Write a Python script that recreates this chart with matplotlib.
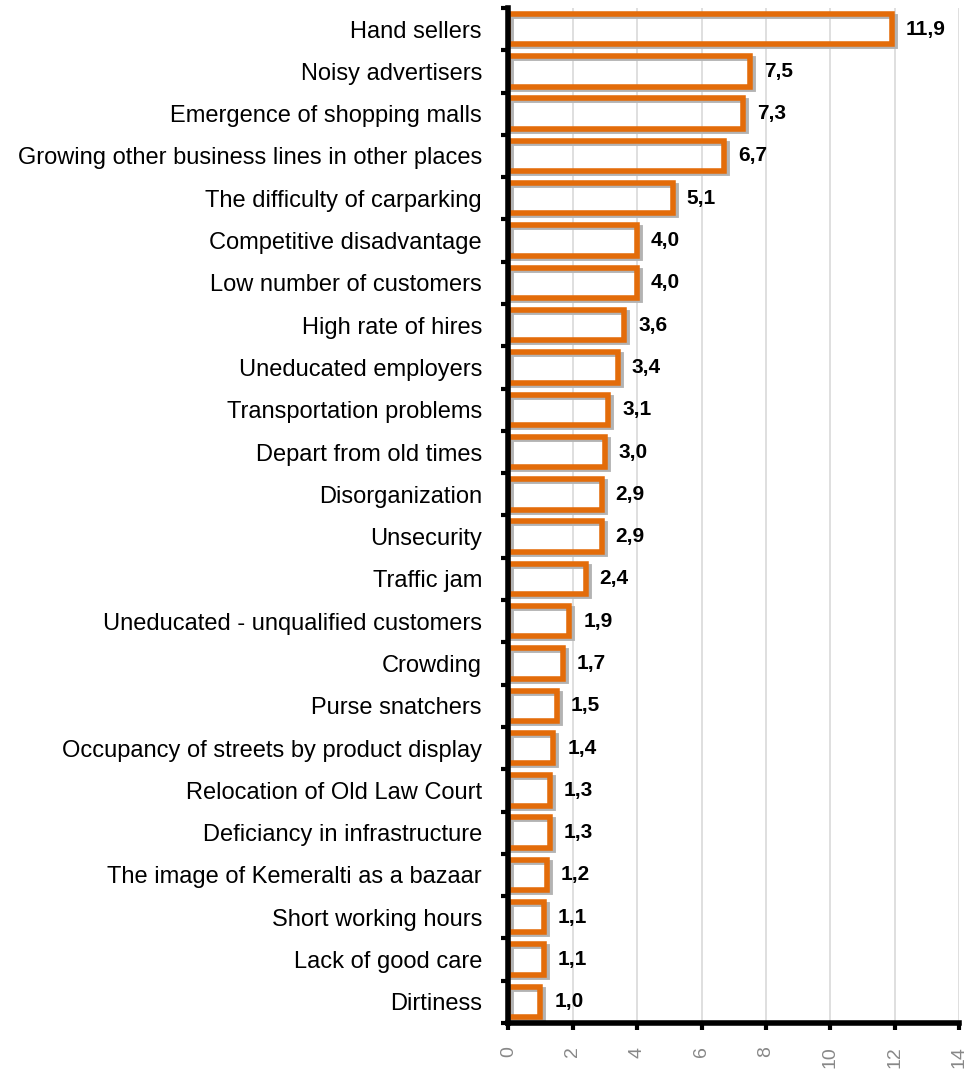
import matplotlib
matplotlib.use("Agg")
import matplotlib.pyplot as plt
import matplotlib.transforms as mtransforms
import numpy as np

categories = [
    "Hand sellers", "Noisy advertisers", "Emergence of shopping malls",
    "Growing other business lines in other places", "The difficulty of carparking",
    "Competitive disadvantage", "Low number of customers", "High rate of hires",
    "Uneducated employers", "Transportation problems", "Depart from old times",
    "Disorganization", "Unsecurity", "Traffic jam",
    "Uneducated - unqualified customers", "Crowding", "Purse snatchers",
    "Occupancy of streets by product display", "Relocation of Old Law Court",
    "Deficiancy in infrastructure", "The image of Kemeralti as a bazaar",
    "Short working hours", "Lack of good care", "Dirtiness",
]
values = [11.9, 7.5, 7.3, 6.7, 5.1, 4.0, 4.0, 3.6, 3.4, 3.1, 3.0, 2.9, 2.9, 2.4,
          1.9, 1.7, 1.5, 1.4, 1.3, 1.3, 1.2, 1.1, 1.1, 1.0]
xticks = [0, 2, 4, 6, 8, 10, 12, 14]

plt.rcParams['font.family'] = ['Liberation Sans', 'DejaVu Sans']

fig = plt.figure(figsize=(9.7, 10.73), dpi=100)
ax = fig.add_axes([0.524, 0.0466, 0.465, 0.946])

y = np.arange(len(categories))
shadow = ax.barh(y, values, height=0.72, color='none', edgecolor='#b3b3b3',
                 linewidth=3.5, zorder=2)
off = mtransforms.ScaledTranslation(3 / 100, -2 / 100, fig.dpi_scale_trans)
for b in shadow:
    b.set_transform(ax.transData + off)
bars = ax.barh(y, values, height=0.72, color='none', edgecolor='#E36C0A',
               linewidth=4.0, zorder=3)

for yi, v in zip(y, values):
    ax.annotate(f"{v:.1f}".replace('.', ','), xy=(v, yi), xytext=(10, 0),
                textcoords='offset points', va='center', ha='left',
                fontsize=15, fontweight='bold', color='black')

ax.set_ylim(len(categories) - 0.5, -0.5)
ax.set_xlim(0, 14)
ax.set_yticks(y)
ax.set_yticklabels(categories, fontsize=17)
ax.set_yticks(np.arange(len(categories) + 1) - 0.5, minor=True)
ax.tick_params(axis='y', which='major', length=0, pad=19)
ax.tick_params(axis='y', which='minor', length=5, width=3, direction='out', color='black')

ax.set_xticks(xticks)
ax.set_xticklabels([str(t) for t in xticks], rotation=90, fontsize=14, color='#888888')
ax.tick_params(axis='x', length=5, width=3, direction='out', color='black', pad=12)

ax.grid(axis='x', color='#d9d9d9', linewidth=1.2, zorder=0)
ax.set_axisbelow(True)

for s in ['top', 'right']:
    ax.spines[s].set_visible(False)
for s in ['left', 'bottom']:
    ax.spines[s].set_linewidth(4)
    ax.spines[s].set_color('black')
    ax.spines[s].set_zorder(5)

fig.savefig("out.png", dpi=100)
